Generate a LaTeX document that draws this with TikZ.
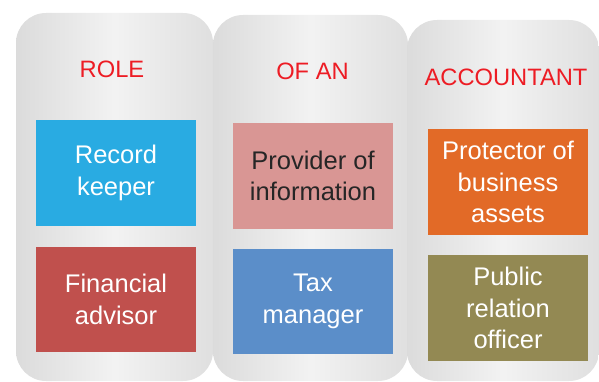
\documentclass[tikz,border=0pt]{standalone}
\usepackage{fontspec}
\setmainfont{Liberation Sans}
\usetikzlibrary{backgrounds,calc}
\definecolor{titlered}{RGB}{237,28,36}
\definecolor{recordblue}{RGB}{41,171,226}
\definecolor{advisorred}{RGB}{192,80,77}
\definecolor{providerpink}{RGB}{217,150,148}
\definecolor{taxblue}{RGB}{91,142,201}
\definecolor{protectororange}{RGB}{226,106,39}
\definecolor{publicolive}{RGB}{147,137,83}
\begin{document}
\begin{tikzpicture}[x=1pt,y=-1pt,
		panel/.style={rounded corners=30pt, left color=gray!28, right color=gray!25, middle color=gray!10, inner sep=0pt},
		rolebox/.style={fill=#1, text=white, minimum width=160pt, minimum height=106pt, inner sep=0pt, align=center, font=\fontsize{25.5}{31.5}\selectfont},
		roletitle/.style={text=titlered, anchor=base, inner sep=0pt, font=\fontsize{23.7}{28}\selectfont}]
			\useasboundingbox (0,0) rectangle (599,382);
			\def\colA{116}
			\def\colB{313}
			\def\colC{508}
			\node[panel, minimum width=197pt, minimum height=368pt] (rolepanel) at (114.5,197) {};
			\node[panel, minimum width=195pt, minimum height=366pt] (ofanpanel) at (310.5,198) {};
			\node[panel, minimum width=192pt, minimum height=361pt] (accpanel) at (503,200.5) {};
			\node[roletitle] (role) at (112,78) {ROLE};
			\node[roletitle] (ofan) at (312.5,80) {OF AN};
			\node[roletitle] (accountant) at (506,86) {ACCOUNTANT};
			\node[rolebox=recordblue] (record) at (\colA,173) {Record\\keeper};
			\node[rolebox=advisorred, minimum height=105pt] (advisor) at (\colA,299.5) {Financial\\advisor};
			\node[rolebox=providerpink, text=black!85] (provider) at (\colB,176) {Provider of\\information};
			\node[rolebox=taxblue, minimum height=105pt] (tax) at (\colB,301.5) {Tax\\manager};
			\node[rolebox=protectororange] (protector) at (\colC,182) {Protector of\\business\\assets};
			\node[rolebox=publicolive] (public) at (\colC,308) {Public\\relation\\officer};
		\end{tikzpicture}
\end{document}
